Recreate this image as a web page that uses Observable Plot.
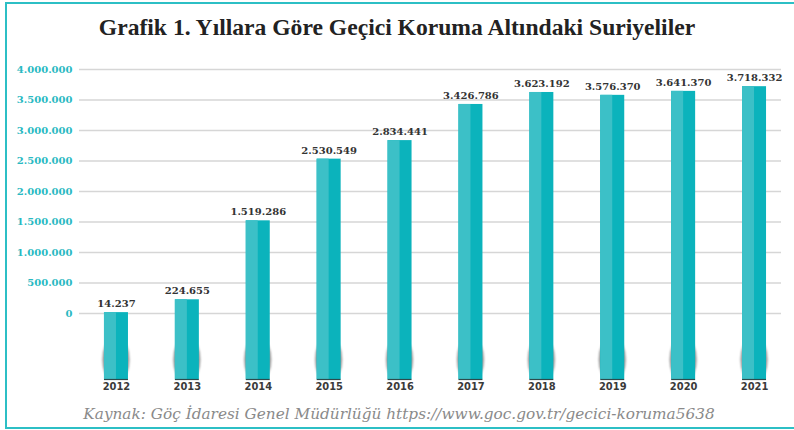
<!DOCTYPE html>
<html>
<head>
<meta charset="utf-8">
<script src="https://cdn.jsdelivr.net/npm/d3@7"></script>
<script src="https://cdn.jsdelivr.net/npm/@observablehq/plot@0.6"></script>
<style>
  html, body { margin: 0; padding: 0; background: #fff; }
  #wrap { position: relative; width: 794px; height: 430px; overflow: hidden; }
  #frame { position: absolute; left: 5px; top: 2px; width: 810px; height: 423px; border: 2px solid #2cbfc5; box-sizing: content-box; }
  #title { position: absolute; left: 0; width: 794px; top: 15px; text-align: center; font-family: "Liberation Serif", serif; font-weight: bold; font-size: 23.6px; line-height: 24px; color: #222; white-space: nowrap; }
  #chart { position: absolute; left: 0; top: 45px; }
  #caption { position: absolute; left: 0; width: 798px; top: 407px; text-align: center; font-family: "DejaVu Serif", serif; font-style: italic; font-size: 15.3px; line-height: 15px; color: #8a8a8a; white-space: nowrap; }
</style>
</head>
<body>
<div id="wrap">
  <div id="frame"></div>
  <div id="title">Grafik 1. Yıllara Göre Geçici Koruma Altındaki Suriyeliler</div>
  <div id="chart"></div>
  <div id="caption">Kaynak: Göç İdaresi Genel Müdürlüğü https://www.goc.gov.tr/gecici-koruma5638</div>
</div>
<script>
const years = ["2012", "2013", "2014", "2015", "2016", "2017", "2018", "2019", "2020", "2021"];
const values = [14237, 224655, 1519286, 2530549, 2834441, 3426786, 3623192, 3576370, 3641370, 3718332];
const yTicks = [0, 500000, 1000000, 1500000, 2000000, 2500000, 3000000, 3500000, 4000000];

const data = years.map((year, i) => ({year, value: values[i]}));
const base = -1082000;
const fmt = d3.formatLocale({decimal: ",", thousands: ".", grouping: [3], currency: ["", ""]}).format(",d");

const serif = "DejaVu Serif, serif";
const plot = Plot.plot({
  width: 794,
  height: 355,
  marginLeft: 80.5,
  marginRight: 4.5,
  marginTop: 24,
  marginBottom: 21,
  style: {background: "transparent", overflow: "visible"},
  x: {type: "band", domain: years, paddingInner: 0.6615, paddingOuter: 0.331, round: false, label: null},
  y: {domain: [base, 4000000], label: null},
  marks: [
    Plot.ruleY(yTicks, {stroke: "#d6d6d6", strokeWidth: 1.5, insetLeft: -1.5, insetRight: 8.5}),
    Plot.barY(data, {x: "year", y1: base + 20000, y2: d => base + 620000, fill: "#3a3a3a", fillOpacity: 0.55, insetLeft: -1.5, insetRight: -1.5, rx: 8, ry: 18}),
    Plot.barY(data, {x: "year", y1: base, y2: "value", fill: "#0bb3bc"}),
    Plot.barY(data, {x: "year", y1: base, y2: "value", fill: "#3cc0c7", insetRight: 12}),
    Plot.tickY(data, {x: "year", y: base, stroke: "#2d4a4c", strokeWidth: 1.2}),
    Plot.text(data, {x: "year", y: "value", text: d => fmt(d.value), lineAnchor: "bottom", dy: -5.5, fill: "#333", fontFamily: serif, fontWeight: "bold", fontSize: 10}),
    Plot.axisY(yTicks, {tickSize: 0, tickPadding: 8.5, tickFormat: fmt, fill: "#2ab9c2", fontFamily: serif, fontWeight: "bold", fontSize: 10, label: null}),
    Plot.axisX({tickSize: 0, tickPadding: 3, fill: "#3a3a3a", fontFamily: "DejaVu Sans Condensed, DejaVu Sans, sans-serif", fontWeight: "bold", fontSize: 11, label: null})
  ]
});
document.getElementById("chart").appendChild(plot);
// soften the shadow behind the bars' bottoms
const bars = d3.select(plot).selectAll('g[aria-label="bar"]');
d3.select(bars.nodes()[0]).style("filter", "blur(1.3px)");
d3.select(plot).selectAll('g[aria-label="x-axis tick label"] text').style("font-stretch", "condensed");
</script>
</body>
</html>
